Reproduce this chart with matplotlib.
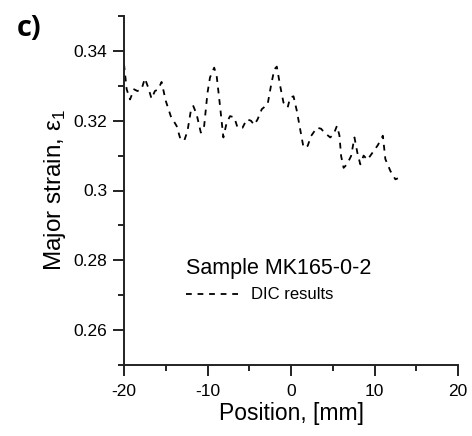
import matplotlib
matplotlib.use("Agg")
import matplotlib.pyplot as plt
from matplotlib.ticker import MultipleLocator

plt.rcParams['font.family'] = ['Liberation Sans', 'DejaVu Sans']

position = [-20.0, -19.68, -19.28, -18.8, -18.4, -17.9, -17.5, -17.1, -16.7, -16.3,
            -15.9, -15.5, -15.0, -14.4, -13.7, -13.3, -12.8, -12.4, -12.0, -11.7,
            -11.3, -10.8, -10.4, -10.0, -9.7, -9.2, -8.9, -8.5, -8.1, -7.7,
            -7.3, -6.8, -6.4, -5.8, -5.3, -4.8, -4.4, -4.0, -3.5, -2.8,
            -2.4, -2.0, -1.7, -1.3, -0.9, -0.4, -0.1, 0.3, 0.7, 1.1,
            1.5, 2.0, 2.4, 3.1, 3.6, 4.0, 4.7, 5.1, 5.5, 5.8,
            6.0, 6.3, 6.7, 7.2, 7.6, 7.95, 8.3, 8.7, 9.15, 9.9,
            10.4, 11.0, 11.3, 11.9, 12.5, 12.8]
strain = [0.3362, 0.3290, 0.3261, 0.3290, 0.3285, 0.3290, 0.3321, 0.3295, 0.3263, 0.3285,
          0.3290, 0.3311, 0.3257, 0.3213, 0.3185, 0.3152, 0.3142, 0.3170, 0.3228, 0.3242,
          0.3218, 0.3166, 0.3185, 0.3280, 0.3324, 0.3352, 0.3328, 0.3242, 0.3152, 0.3195,
          0.3213, 0.3210, 0.3180, 0.3180, 0.3204, 0.3200, 0.3188, 0.3204, 0.3233, 0.3247,
          0.3300, 0.3347, 0.3355, 0.3300, 0.3252, 0.3238, 0.3266, 0.3270, 0.3228, 0.3175,
          0.3123, 0.3128, 0.3156, 0.3180, 0.3177, 0.3166, 0.3152, 0.3161, 0.3185, 0.3158,
          0.3099, 0.3065, 0.3075, 0.3099, 0.3152, 0.3108, 0.3075, 0.3100, 0.3088, 0.3113,
          0.3130, 0.3157, 0.3090, 0.3056, 0.3032, 0.3035]

x_ticks = [-20, -10, 0, 10, 20]
y_ticks = [0.26, 0.28, 0.3, 0.32, 0.34]
y_labels = ['0.26', '0.28', '0.3', '0.32', '0.34']

fig = plt.figure(figsize=(4.72, 4.36), dpi=100)
ax = fig.add_axes([124/472, 1-365/436, (458-124)/472, (365-16)/436])

ax.plot(position, strain, color='black', linestyle=(0, (3.2, 3.2)), linewidth=1.3,
        label='DIC results')

ax.set_xlim(-20, 20)
ax.set_ylim(0.25, 0.35)
ax.set_xticks(x_ticks)
ax.set_xticklabels([str(v) for v in x_ticks])
ax.set_yticks(y_ticks)
ax.set_yticklabels(y_labels)
ax.xaxis.set_minor_locator(MultipleLocator(5))
ax.yaxis.set_minor_locator(MultipleLocator(0.01))

for s in ['top', 'right']:
    ax.spines[s].set_visible(False)
for s in ['left', 'bottom']:
    ax.spines[s].set_linewidth(1.4)
    ax.spines[s].set_color('#222222')

ax.tick_params(which='major', direction='out', length=8, width=1.4, labelsize=12.5,
               color='#222222', pad=4)
ax.tick_params(axis='x', which='major', pad=6)
ax.tick_params(which='minor', direction='out', length=4.5, width=1.4, color='#222222')

ax.set_xlabel('Position, [mm]', fontsize=16.5, labelpad=2)
ax.set_ylabel('Major strain, ε$_\\mathregular{1}$', fontsize=17.5, labelpad=4)

leg = ax.legend(loc='upper left', bbox_to_anchor=(0.15, 0.34), frameon=False,
                title='Sample MK165-0-2', fontsize=12, handlelength=3.3,
                handletextpad=0.6, alignment='left', borderaxespad=0.3)
leg.get_title().set_fontsize(15.5)

fig.text(0.035, 0.967, 'c)', fontsize=21, fontweight='bold', family='Open Sans',
         va='top', ha='left')

fig.savefig('out.png', dpi=100)
